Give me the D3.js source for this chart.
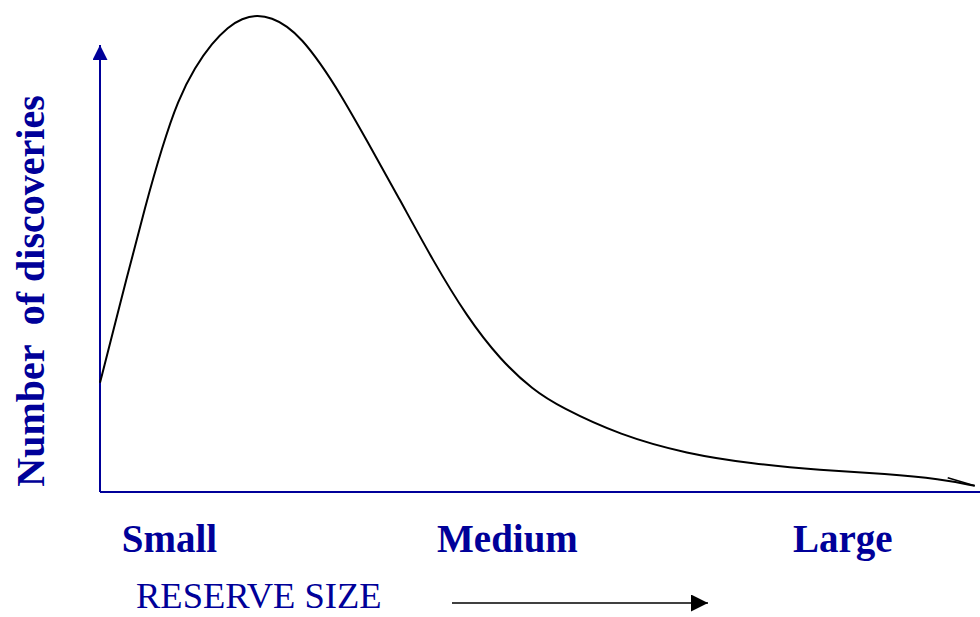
<!DOCTYPE html>
<html>
<head>
<meta charset="utf-8">
<script src="https://cdn.jsdelivr.net/npm/d3@7"></script>
<style>
  html, body { margin: 0; padding: 0; background: #fff; }
  svg { display: block; }
</style>
</head>
<body>
<script>
// ---- data (relative reserve size 0..100, relative number of discoveries 0..100) ----
const reserveSize = [0, 3.18, 5.11, 7.05, 8.86, 10.8, 12.73, 14.55, 16.14, 17.84, 19.55, 21.25, 22.95, 25.0, 27.27, 30.3, 34.1, 37.8, 41.7, 45.5, 49.2, 52.3, 59.1, 66.7, 74.2, 81.8, 89.4, 95.5, 99.4];
const discoveries = [22.9, 45.9, 59.7, 72.3, 82.2, 89.1, 94.1, 97.5, 99.3, 100, 99.4, 97.7, 94.9, 90.0, 83.6, 73.8, 61.2, 48.6, 36.7, 27.7, 21.4, 17.8, 11.9, 8.0, 5.9, 4.6, 3.8, 2.7, 1.3];
const sizeCategories = ["Small", "Medium", "Large"];
const categoryPositions = [7.9, 46.3, 84.4];
const xAxisTitle = "RESERVE SIZE";
const yAxisTitle = "Number  of discoveries";

const W = 980, H = 617;
const blue = "#000099";
const serif = "'Liberation Serif', 'Times New Roman', serif";

const svg = d3.select("body").append("svg").attr("width", W).attr("height", H);

const x = d3.scaleLinear().domain([0, 100]).range([100, 980]);
const y = d3.scaleLinear().domain([0, 100]).range([492, 15]);

const defs = svg.append("defs");
defs.append("marker").attr("id", "blueHead")
  .attr("viewBox", "0 0 10 10").attr("refX", 10).attr("refY", 5)
  .attr("markerWidth", 15).attr("markerHeight", 15).attr("markerUnits", "userSpaceOnUse")
  .attr("orient", "auto")
  .append("path").attr("d", "M0,0 L10,5 L0,10 Z").attr("fill", blue);
defs.append("marker").attr("id", "blackHead")
  .attr("viewBox", "0 0 10 10").attr("refX", 10).attr("refY", 5)
  .attr("markerWidth", 17).attr("markerHeight", 17).attr("markerUnits", "userSpaceOnUse")
  .attr("orient", "auto")
  .append("path").attr("d", "M0,0 L10,5 L0,10 Z").attr("fill", "#000");

// axes
svg.append("line")
  .attr("x1", x(0)).attr("y1", y(0)).attr("x2", W).attr("y2", y(0))
  .attr("stroke", blue).attr("stroke-width", 2);
svg.append("line")
  .attr("x1", x(0)).attr("y1", y(0)).attr("x2", x(0)).attr("y2", 45)
  .attr("stroke", blue).attr("stroke-width", 2)
  .attr("marker-end", "url(#blueHead)");

// curve
const pts = reserveSize.map((v, i) => [v, discoveries[i]]);
const line = d3.line().x(d => x(d[0])).y(d => y(d[1])).curve(d3.curveBasis);
svg.append("path").datum(pts)
  .attr("d", line)
  .attr("fill", "none").attr("stroke", "#000").attr("stroke-width", 2);

// small barb at curve end
const last = pts[pts.length - 1];
svg.append("line")
  .attr("x1", x(last[0]) - 27).attr("y1", y(last[1]) - 8)
  .attr("x2", x(last[0])).attr("y2", y(last[1]))
  .attr("stroke", "#000").attr("stroke-width", 1.5);

// category labels
svg.selectAll("text.cat").data(sizeCategories).enter().append("text")
  .attr("class", "cat")
  .attr("x", (d, i) => x(categoryPositions[i]))
  .attr("y", 552)
  .attr("text-anchor", "middle")
  .attr("font-family", serif).attr("font-weight", "bold").attr("font-size", 39)
  .attr("fill", blue)
  .text(d => d);

// x axis title
svg.append("text")
  .attr("x", 136).attr("y", 608)
  .attr("font-family", serif).attr("font-size", 36.5)
  .attr("fill", blue)
  .text(xAxisTitle);

// x direction arrow
svg.append("line")
  .attr("x1", 452).attr("y1", 603).attr("x2", 708).attr("y2", 603)
  .attr("stroke", "#000").attr("stroke-width", 1.5)
  .attr("marker-end", "url(#blackHead)");

// y axis title
svg.append("text")
  .attr("transform", "translate(44,291) rotate(-90)")
  .attr("text-anchor", "middle")
  .attr("font-family", serif).attr("font-weight", "bold").attr("font-size", 40)
  .attr("fill", blue)
  .style("white-space", "pre")
  .text(yAxisTitle);
</script>
</body>
</html>
